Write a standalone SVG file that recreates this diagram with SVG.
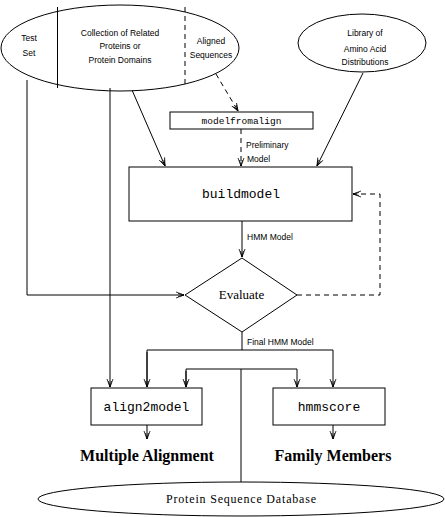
<svg xmlns="http://www.w3.org/2000/svg" width="445" height="517" viewBox="0 0 445 517">
<style>
.s{fill:none;stroke:#000;stroke-width:1}
.d{fill:none;stroke:#000;stroke-width:1;stroke-dasharray:5,4}
.box{fill:#fff;stroke:#000;stroke-width:1}
.sm{font-family:"Liberation Sans",Arial,sans-serif;font-size:8.5px;fill:#000}
.mono{font-family:"Liberation Mono","Courier New",monospace;fill:#000}
.ser{font-family:"Liberation Serif","Times New Roman",serif;fill:#000}
.big{font-family:"Liberation Serif","Times New Roman",serif;font-weight:bold;font-size:16px;fill:#000}
</style>
<defs>
<marker id="a" markerWidth="10" markerHeight="10" refX="8" refY="4" orient="auto" markerUnits="userSpaceOnUse">
<path d="M0,1 L8,4 L0,7 M2,2.5 L8,4 L2,5.5" fill="none" stroke="#000" stroke-width="0.8"/>
</marker>
</defs>
<rect width="445" height="517" fill="#fff"/>
<g id="connectors">
<path class="s" d="M27,80 V295 H184" marker-end="url(#a)"/>
<path class="s" d="M110,88 V387" marker-end="url(#a)"/>
<path class="s" d="M132,90 L165,166" marker-end="url(#a)"/>
<path class="s" d="M363,73 L317,166" marker-end="url(#a)"/>
<path class="d" d="M216,74 L238,111" marker-end="url(#a)"/>
<path class="d" d="M241,129 V166" marker-end="url(#a)"/>
<path class="s" d="M242,221 V257" marker-end="url(#a)"/>
<path class="d" d="M297,295 H380 V194 H353" marker-end="url(#a)"/>
<path class="s" d="M242,332 V350"/>
<path class="s" d="M147,387 V350 H333 V387" marker-end="url(#a)"/>
<path class="s" d="M147,352 V387" marker-end="url(#a)"/>
<path class="s" d="M186,387 V369 H297 V387" marker-end="url(#a)"/>
<path class="s" d="M186,371 V387" marker-end="url(#a)"/>
<path class="s" d="M241,369 V482"/>
<path class="s" d="M147,425 V439" marker-end="url(#a)"/>
<path class="s" d="M333,425 V439" marker-end="url(#a)"/>
<text class="sm" x="246" y="148">Preliminary</text>
<text class="sm" x="247" y="162">Model</text>
<text class="sm" x="247" y="240">HMM Model</text>
<text class="sm" x="247" y="345">Final HMM Model</text>
</g>
<g id="inputs">
<ellipse class="s" cx="120" cy="48" rx="119" ry="43"/>
<line class="s" x1="57.5" y1="7" x2="57.5" y2="88"/>
<line class="d" x1="185" y1="7" x2="185" y2="88"/>
<text class="sm" x="29" y="41" text-anchor="middle">Test</text>
<text class="sm" x="29" y="56" text-anchor="middle">Set</text>
<text class="sm" x="120" y="36" text-anchor="middle">Collection of Related</text>
<text class="sm" x="120" y="49" text-anchor="middle">Proteins or</text>
<text class="sm" x="120" y="63" text-anchor="middle">Protein Domains</text>
<text class="sm" x="211" y="44" text-anchor="middle">Aligned</text>
<text class="sm" x="211" y="58" text-anchor="middle">Sequences</text>
</g>
<g id="library">
<ellipse class="s" cx="362" cy="43" rx="64" ry="29"/>
<text class="sm" x="365" y="36" text-anchor="middle">Library of</text>
<text class="sm" x="365" y="52" text-anchor="middle">Amino Acid</text>
<text class="sm" x="365" y="65" text-anchor="middle">Distributions</text>
</g>
<g id="modelfromalign">
<rect class="box" x="170" y="112" width="143" height="17"/>
<text class="mono" x="241.5" y="124" font-size="9.5" text-anchor="middle">modelfromalign</text>
</g>
<g id="buildmodel">
<rect class="box" x="129" y="167" width="223" height="54"/>
<text class="mono" x="241" y="198" font-size="13" text-anchor="middle">buildmodel</text>
</g>
<g id="evaluate">
<polygon class="box" points="242,258 297,295 242,332 185,295"/>
<text class="ser" x="241.5" y="299" font-size="13" text-anchor="middle">Evaluate</text>
</g>
<g id="align2model">
<rect class="box" x="91" y="388" width="111" height="37"/>
<text class="mono" x="146.5" y="411" font-size="13" text-anchor="middle">align2model</text>
</g>
<g id="hmmscore">
<rect class="box" x="273" y="388" width="112" height="37"/>
<text class="mono" x="329" y="411" font-size="13" text-anchor="middle">hmmscore</text>
</g>
<g id="outputs">
<text class="big" x="147" y="461" text-anchor="middle">Multiple Alignment</text>
<text class="big" x="333" y="461" text-anchor="middle">Family Members</text>
</g>
<g id="database">
<ellipse class="s" cx="241" cy="499" rx="203" ry="17"/>
<text class="ser" x="241" y="503" font-size="12" text-anchor="middle" textLength="150" lengthAdjust="spacing">Protein Sequence Database</text>
</g>
</svg>
